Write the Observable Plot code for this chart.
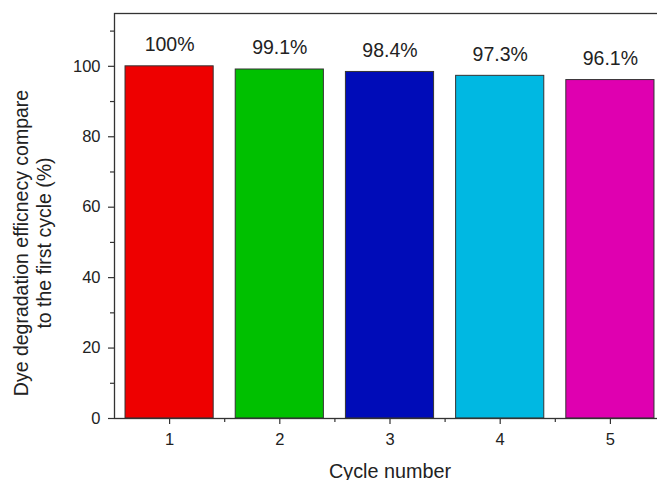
<!DOCTYPE html>
<html>
<head>
<meta charset="utf-8">
<script src="https://cdn.jsdelivr.net/npm/d3@7"></script>
<script src="https://cdn.jsdelivr.net/npm/@observablehq/plot@0.6"></script>
<style>
  html, body { margin: 0; padding: 0; background: #fff; }
  #chart { width: 657px; height: 480px; overflow: hidden; }
  #chart svg { overflow: hidden; }
  #chart svg g[aria-label$="tick label"],
  #chart svg g[aria-label$="tick label"] text { font-size: 16.5px !important; }
</style>
</head>
<body>
<div id="chart"></div>
<script>
// Cycle-by-cycle dye degradation efficiency, relative to the first cycle
const cycles = [1, 2, 3, 4, 5];
const efficiency = [100, 99.1, 98.4, 97.3, 96.1];
const barColors = ["#ee0000", "#00c000", "#000cb8", "#00b8e2", "#df00b0"];

const yTicks = [0, 20, 40, 60, 80, 100];
const yMinorTicks = [10, 30, 50, 70, 90, 110];
const xMinorTicks = [1.5, 2.5, 3.5, 4.5, 5.5];

const xTitle = "Cycle number";
const yTitle = "Dye degradation efficnecy compare\nto the first cycle (%)";

const rows = cycles.map((c, i) => ({
  cycle: c,
  value: efficiency[i],
  color: barColors[i],
  label: `${efficiency[i]}%`
}));

const font = "'Liberation Sans', Arial, Helvetica, sans-serif";
const ink = "#222";
const line = "#333";

const chart = Plot.plot({
  width: 657,
  height: 480,
  marginLeft: 114,
  marginRight: -8,
  marginTop: 13,
  marginBottom: 62,
  style: { fontFamily: font, fontSize: "16.5px", color: ink, background: "#fff" },
  x: { domain: [0.5, 5.5] },
  y: { domain: [0, 115] },
  color: { type: "identity" },
  marks: [
    Plot.rectY(rows, {
      x1: d => d.cycle - 0.4,
      x2: d => d.cycle + 0.4,
      y1: 0,
      y2: "value",
      fill: "color",
      stroke: line,
      strokeWidth: 1
    }),
    Plot.text(rows, {
      x: "cycle",
      y: "value",
      text: "label",
      dy: -15,
      lineAnchor: "bottom",
      fontSize: 19.5,
      fill: ink
    }),
    Plot.axisY({ ticks: yTicks, tickFormat: d => String(d), tickSize: 6, tickPadding: 8, fontSize: 16.5, label: null, stroke: line, strokeWidth: 1.2, fill: ink }),
    Plot.axisY({ ticks: yMinorTicks, tickSize: 4, text: null, label: null, stroke: line, strokeWidth: 1.2 }),
    Plot.axisX({ ticks: cycles, tickFormat: d => String(d), tickSize: 6, tickPadding: 9, fontSize: 16.5, label: null, stroke: line, strokeWidth: 1.2, fill: ink }),
    Plot.axisX({ ticks: xMinorTicks, tickSize: 4, text: null, label: null, stroke: line, strokeWidth: 1.2 }),
    Plot.frame({ stroke: line, strokeWidth: 1.3 }),
    Plot.text([xTitle], {
      frameAnchor: "bottom",
      dy: 59,
      lineAnchor: "bottom",
      textAnchor: "middle",
      fontSize: 19.8,
      fill: ink
    }),
    Plot.text([yTitle], {
      frameAnchor: "left",
      rotate: -90,
      dx: -64,
      dy: 27,
      textAnchor: "middle",
      lineAnchor: "bottom",
      lineHeight: 1.18,
      fontSize: 19.5,
      fill: ink
    })
  ]
});

document.getElementById("chart").appendChild(chart);
</script>
</body>
</html>
